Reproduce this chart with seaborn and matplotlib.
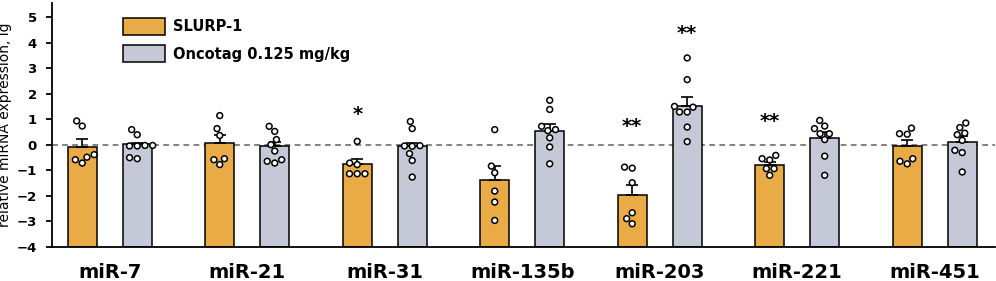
import matplotlib
matplotlib.use("Agg")
import matplotlib.pyplot as plt
from matplotlib.patches import Patch
import numpy as np
import pandas as pd
import seaborn as sns

# categories and groups
mirnas = ['miR-7', 'miR-21', 'miR-31', 'miR-135b', 'miR-203', 'miR-221', 'miR-451']
groups = ['SLURP-1', 'Oncotag 0.125 mg/kg']
colors = {'SLURP-1': '#E9AB45', 'Oncotag 0.125 mg/kg': '#C5C8D6'}

# bar means and SEM
slurp_mean = [-0.10, 0.05, -0.75, -1.40, -1.96, -0.81, -0.07]
slurp_sem = [0.33, 0.31, 0.20, 0.56, 0.39, 0.13, 0.24]
onco_mean = [0.03, -0.04, -0.07, 0.52, 1.53, 0.27, 0.10]
onco_sem = [0.05, 0.14, 0.15, 0.28, 0.34, 0.22, 0.23]

# individual animals
slurp_pts = [
    [0.73, 0.93, -0.39, -0.59, -0.72, -0.49],
    [1.14, 0.63, 0.36, -0.55, -0.78, -0.59],
    [0.13, -0.72, -0.78, -1.14, -1.14, -1.14],
    [0.59, -0.84, -1.10, -1.82, -2.25, -2.97],
    [-0.92, -0.88, -1.49, -2.67, -2.90, -3.10],
    [-0.42, -0.55, -0.60, -0.94, -0.94, -1.20],
    [0.65, 0.43, 0.41, -0.65, -0.55, -0.75],
]
onco_pts = [
    [0.39, 0.59, -0.03, -0.05, -0.05, -0.03, -0.55, -0.51],
    [0.52, 0.72, 0.20, 0.00, -0.25, -0.72, -0.59, -0.65],
    [0.91, 0.63, -0.04, -0.06, -0.05, -0.35, -0.62, -1.27],
    [1.74, 1.38, 0.59, 0.72, 0.55, 0.27, -0.09, -0.75],
    [3.40, 2.55, 1.47, 1.50, 1.28, 1.28, 0.69, 0.12],
    [0.95, 0.73, 0.63, 0.43, 0.43, 0.20, -0.45, -1.20],
    [0.85, 0.67, 0.39, 0.45, 0.17, -0.31, -0.22, -1.07],
]

# significance marks: (miRNA, group, label, y)
stars = [
    ('miR-31', 'SLURP-1', '*', 1.2),
    ('miR-203', 'SLURP-1', '**', 0.73),
    ('miR-203', 'Oncotag 0.125 mg/kg', '**', 4.35),
    ('miR-221', 'SLURP-1', '**', 0.89),
]

ybase = -4

bars = pd.DataFrame({
    'mirna': mirnas * 2,
    'group': [groups[0]] * len(mirnas) + [groups[1]] * len(mirnas),
    'mean': slurp_mean + onco_mean,
    'sem': slurp_sem + onco_sem,
})
rows = []
for g, allpts in zip(groups, [slurp_pts, onco_pts]):
    for m, pts in zip(mirnas, allpts):
        for v in pts:
            rows.append((m, g, v))
points = pd.DataFrame(rows, columns=['mirna', 'group', 'value'])

sns.set_style('ticks', {'axes.edgecolor': 'black', 'text.color': 'black',
                        'axes.labelcolor': 'black', 'xtick.color': 'black',
                        'ytick.color': 'black'})
plt.rcParams['font.family'] = ['DejaVu Sans']

fig = plt.figure(figsize=(9.96, 2.81), dpi=100)
ax = fig.add_axes([0.0522, 0.122, 0.947, 0.867])

ax.axhline(0, color='#777777', lw=1.3, ls=(0, (3.2, 2.4)), zorder=0.5)

sns.barplot(data=bars, x='mirna', y='mean', hue='group', order=mirnas,
            hue_order=groups, palette=colors, saturation=1, errorbar=None,
            width=0.8, gap=0.47, edgecolor='black', linewidth=1.1,
            legend=False, zorder=1, ax=ax)

# bars start at the bottom of the axis, error bars go up only
centers = {}
for p, (_, r) in zip(ax.patches, bars.iterrows()):
    h = p.get_height()
    p.set_y(ybase)
    p.set_height(h - ybase)
    cx = p.get_x() + p.get_width() / 2
    centers[(r['mirna'], r['group'])] = cx
    ax.errorbar(cx, r['mean'], yerr=[[0], [r['sem']]], fmt='none',
                ecolor='black', elinewidth=1.2, capsize=4.5, capthick=1.2,
                zorder=2)

sns.swarmplot(data=points, x='mirna', y='value', hue='group', order=mirnas,
              hue_order=groups, dodge=True,
              palette={g: 'white' for g in groups}, edgecolor='black',
              linewidth=1.1, size=4.2, legend=False, zorder=3, ax=ax)

for m, g, lab, y in stars:
    ax.text(centers[(m, g)], y, lab, ha='center', va='center',
            fontsize=14, fontweight='bold')

ax.set_xlim(-0.42, 6.44)
ax.set_ylim(ybase, 5.55)
ax.set_yticks(range(-4, 6))
ax.set_xlabel('')
ax.set_ylabel('relative miRNA expression, lg', fontsize=10, labelpad=3)
sns.despine(ax=ax)
for s in ['left', 'bottom']:
    ax.spines[s].set_linewidth(1.3)
ax.tick_params(axis='y', length=4, width=1.3, pad=7, labelsize=9.5)
ax.tick_params(axis='x', length=0, pad=12, labelsize=14)
for t in ax.get_yticklabels():
    t.set_fontweight('bold')
for t in ax.get_xticklabels():
    t.set_fontweight('bold')

handles = [Patch(facecolor=colors[g], edgecolor='black', linewidth=1.1, label=g)
           for g in groups]
ax.legend(handles=handles, loc='upper left', bbox_to_anchor=(0.075, 0.94),
          frameon=False, borderpad=0, borderaxespad=0,
          prop={'weight': 'bold', 'size': 10.5}, handlelength=2.9,
          handleheight=1.4, labelspacing=0.75, handletextpad=0.55)

fig.savefig('out.png', dpi=100)
